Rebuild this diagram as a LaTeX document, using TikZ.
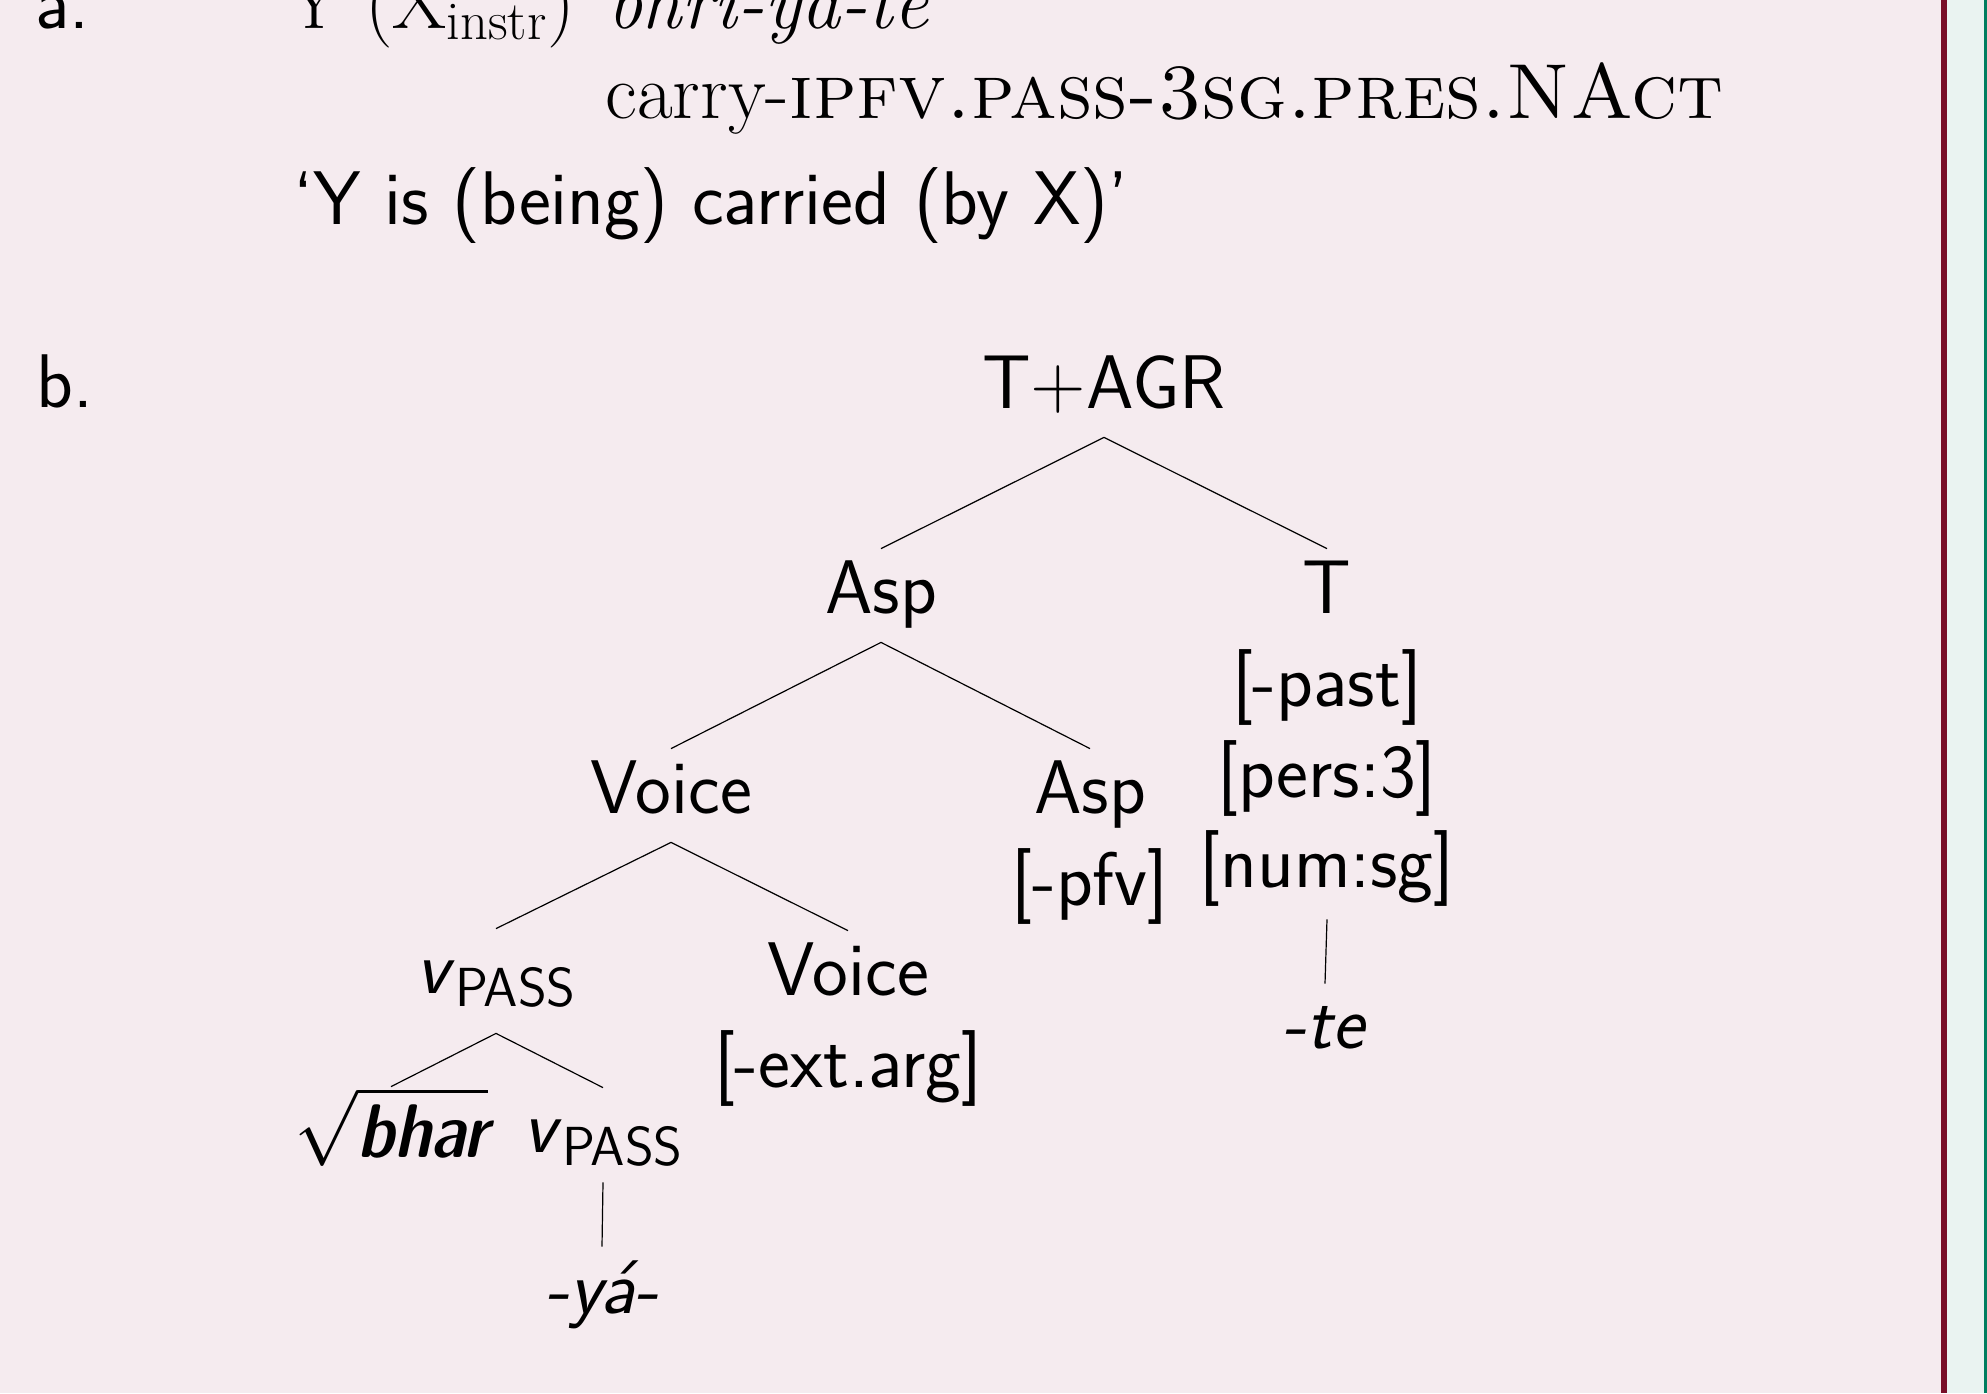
\RequirePackage{fix-cm}
\documentclass[tikz,border=0pt]{standalone}
\usepackage{exscale}
\usepackage{fontspec}
\definecolor{bgpink}{HTML}{F5EBEF}
\definecolor{barred}{HTML}{780F28}
\definecolor{bggreen}{HTML}{EAF3F1}
\definecolor{bargreen}{HTML}{007D5F}
\newcommand\vpass{\textit{v}\raisebox{-6.5pt}{\fontsize{27.5}{28}\selectfont PASS}}
\begin{document}
\begin{tikzpicture}[x=0.5pt,y=-0.5pt,
  every node/.style={inner sep=0pt, font=\fontsize{38}{46}\selectfont\sffamily},
  serif/.style={font=\fontsize{39}{46}\selectfont\rmfamily},
  tn/.style={anchor=base, text height=32pt, text depth=14.5pt},
  feat/.style={anchor=base},
  branch/.style={line width=0.6pt, black}]
\useasboundingbox (0,0) rectangle (1987,1393);
\fill[bgpink] (0,0) rectangle (1941,1393);
\fill[barred] (1941,0) rectangle (1947,1393);
\fill[bggreen] (1947,0) rectangle (1984,1393);
\fill[bargreen] (1984,0) rectangle (1987,1393);

% example a
\node[anchor=base west] (la) at (35,28) {a.};
\node[serif, anchor=base west] (src) at (287,28) {Y (X\textsubscript{instr})};
\node[serif, anchor=base west] (word) at (607,28) {\textit{bhri-yá-te}};
\node[serif, anchor=base west] (gloss) at (605,118) {carry-\textsc{ipfv.pass-3sg.pres.NAct}};
\node[anchor=base west] (trans) at (293,224) {‘Y is (being) carried (by X)’};

% example b
\node[anchor=base west] (lb) at (36,407) {b.};
\node[tn] (tagr) at (1104,408) {T+AGR};
\node[tn] (asp1) at (881,613) {Asp};
\node[tn] (t) at (1327,613) {T};
\node[feat] (past) at (1327,706) {[-past]};
\node[feat] (pers) at (1327,797) {[pers:3]};
\node[tn, text depth=16pt] (num) at (1327,887) {[num:sg]};
\node[tn] (te) at (1325,1048) {\textit{-te}};
\node[tn] (voice1) at (671,813) {Voice};
\node[tn] (asp2) at (1090,813) {Asp};
\node[feat] (pfv) at (1090,905) {[-pfv]};
\node[tn, text depth=20pt] (vp1) at (496,993) {\vpass};
\node[tn] (voice2) at (848,995) {Voice};
\node[feat] (extarg) at (848,1087) {[-ext.arg]};
\node[tn, text height=35pt] (root) at (391,1157) {$\sqrt{\mbox{\fontseries{sbc}\itshape bhar}}$};
\node[tn, text depth=15pt] (vp2) at (603,1152) {\vpass};
\node[tn, text height=33pt] (ya) at (602,1313) {\textit{-yá-}};

\draw[branch] (tagr.south) -- (asp1.north);
\draw[branch] (tagr.south) -- (t.north);
\draw[branch] (asp1.south) -- (voice1.north);
\draw[branch] (asp1.south) -- (asp2.north);
\draw[branch] (voice1.south) -- (vp1.north);
\draw[branch] (voice1.south) -- (voice2.north);
\draw[branch] (vp1.south) -- (root.north);
\draw[branch] (vp1.south) -- (vp2.north);
\draw[branch] (vp2.south) -- (ya.north);
\draw[branch] (num.south) -- (te.north);
\end{tikzpicture}
\end{document}
